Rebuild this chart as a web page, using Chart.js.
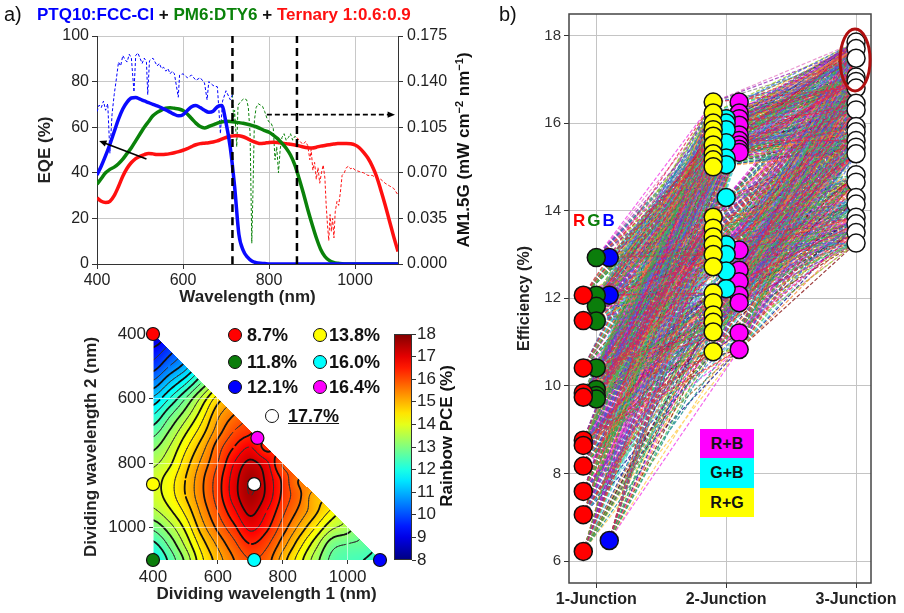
<!DOCTYPE html>
<html><head><meta charset="utf-8">
<script src="https://cdn.jsdelivr.net/npm/chart.js@4.4.0/dist/chart.umd.min.js"></script>
<style>
html,body{margin:0;padding:0;background:#fff;}
body{width:904px;height:613px;overflow:hidden;position:relative;font-family:"Liberation Sans",Arial,sans-serif;color:#111;}
canvas{position:absolute;}
.t{position:absolute;white-space:nowrap;line-height:1;}
.b{font-weight:bold;}
.rot{transform:translate(-50%,-50%) rotate(-90deg);}
.dot{position:absolute;width:14px;height:14px;border-radius:50%;border:1.3px solid #111;box-sizing:border-box;transform:translate(-50%,-50%);}
.box{position:absolute;left:700px;width:54px;text-align:center;font-weight:bold;font-size:16px;}
sup{font-size:11px;vertical-align:6px;}
</style></head><body>
<canvas id="eqe" width="460" height="310" style="left:0;top:0"></canvas>
<canvas id="map" width="400" height="303" style="left:60px;top:310px"></canvas>
<canvas id="cbar" width="80" height="303" style="left:380px;top:310px"></canvas>
<canvas id="eff" width="404" height="613" style="left:500px;top:0"></canvas>

<div class="t" style="left:4px;top:4px;font-size:20px">a)</div>
<div class="t b" style="left:37px;top:6px;font-size:17px"><span style="color:#0000ff">PTQ10:FCC-Cl</span> + <span style="color:#0a820a">PM6:DTY6</span> + <span style="color:#ff1010">Ternary 1:0.6:0.9</span></div>
<div class="t b rot" style="left:463px;top:150px;font-size:17px">AM1.5G (mW cm<sup>&minus;2</sup> nm<sup>&minus;1</sup>)</div>

<div class="dot" style="left:235px;top:335px;background:#ff0000"></div>
<div class="dot" style="left:235px;top:362px;background:#0b7d0b"></div>
<div class="dot" style="left:235px;top:387px;background:#0000ff"></div>
<div class="dot" style="left:320px;top:335px;background:#ffff00"></div>
<div class="dot" style="left:320px;top:362px;background:#00ffff"></div>
<div class="dot" style="left:320px;top:387px;background:#ff00ff"></div>
<div class="dot" style="left:272px;top:416px;background:#ffffff"></div>
<div class="t b" style="left:247px;top:326px;font-size:18px">8.7%</div>
<div class="t b" style="left:247px;top:353px;font-size:18px">11.8%</div>
<div class="t b" style="left:247px;top:378px;font-size:18px">12.1%</div>
<div class="t b" style="left:329px;top:326px;font-size:18px">13.8%</div>
<div class="t b" style="left:329px;top:353px;font-size:18px">16.0%</div>
<div class="t b" style="left:329px;top:378px;font-size:18px">16.4%</div>
<div class="t b" style="left:288px;top:407px;font-size:18px;text-decoration:underline">17.7%</div>
<div class="t b rot" style="left:446px;top:436px;font-size:17px">Rainbow PCE (%)</div>

<div class="t" style="left:499px;top:4px;font-size:20px">b)</div>
<div class="t b" style="left:573px;top:212px;font-size:17px;letter-spacing:2px"><span style="color:#ff0000">R</span><span style="color:#0b7d0b">G</span><span style="color:#0000ff">B</span></div>
<div class="box" style="top:429px;height:29px;line-height:29px;background:#ff00ff">R+B</div>
<div class="box" style="top:458px;height:30px;line-height:30px;background:#00ffff">G+B</div>
<div class="box" style="top:488px;height:29px;line-height:29px;background:#ffff00">R+G</div>

<script>
// ---- panel a: EQE spectra (nm, %) ----
const eqeWl = [400,410,420,430,440,450,460,470,480,490,500,510,520,530,540,550,560,570,580,590,
  600,610,620,630,640,650,660,670,680,690,700,710,720,730,740,750,760,770,780,790,
  800,810,820,830,840,850,860,870,880,890,900,910,920,930,940,950,960,970,980,990,
  1000,1010,1020,1030,1040,1050,1060,1070,1080,1090,1100];
const eqeBlue = [39,43,47.5,52.5,58,63.5,68,71,72.8,73,72.3,71.5,70.8,70,69.3,68.5,67.6,66.6,65.6,65,
  65.5,67.3,69,69.5,68.6,67.4,66.6,67,69,69.5,62,51,34,13,6,3,1.3,0.6,0.3,0.2,
  0,0,0,0,0,0,0,0,0,0,0,0,0,0,0,0,0,0,0,0,0,0,0,0,0,0,0,0,0,0,0];
const eqeGreen = [35,37.5,40,41.5,42.5,44,46,48.5,51,54,57,60,62.5,65,66.5,67.5,68.3,68.5,68.3,68,
  67.3,65.8,63.8,61.8,60.3,59.7,60.3,61,61.8,62.3,62.6,62.5,62.3,62,61.7,61.3,60.8,60.2,59.4,58.5,
  57.8,56.5,55,53,50.8,47.8,43.5,37.5,31,24,17.5,11.5,6.5,3.3,1.6,0.7,0.3,0.1,0,0,
  0,0,0,0,0,0,0,0,0,0,0];
const eqeRed = [29,27.5,27,27.5,30,34,38.5,42,44.5,46.2,47.2,48,48.5,48.3,48,48,48.1,48.4,48.8,49.3,
  49.9,50.6,51.5,52.3,52.8,53,53.2,53.5,54,54.8,55.5,56,56.3,56.3,55.8,55,54,53.3,52.8,53,
  53.3,53.4,53.3,53,52.8,52.5,52.2,51.8,51.3,51,50.9,51.2,51.7,52,52.3,52.6,52.8,52.8,52.8,52.7,
  52.2,51,49,46.5,43,38.5,32.5,26,19,12,5.5];

// AM1.5G spectrum (mW cm-2 nm-1), split at the two dividing wavelengths
const amBlueWl = [400,405,410,415,420,425,430,435,440,445,450,455,460,465,470,475,480,486,490,495,
  500,505,510,515,518,522,530,535,540,545,550,555,560,565,570,575,580,589,592,600,
  610,620,630,640,650,656,660,670,680,687,692,700,710,715];
const amBlue = [0.117,0.122,0.12,0.125,0.118,0.123,0.085,0.115,0.13,0.142,0.155,0.152,0.16,0.157,0.155,0.161,0.158,0.132,0.16,0.162,
  0.158,0.154,0.158,0.155,0.13,0.156,0.158,0.155,0.152,0.154,0.15,0.151,0.148,0.15,0.146,0.148,0.146,0.128,0.145,0.146,
  0.143,0.145,0.141,0.143,0.139,0.126,0.14,0.137,0.136,0.1,0.125,0.133,0.126,0.13];
const amGreenWl = [715,718,720,725,728,735,742,748,752,756,760,763,766,770,775,780,785,790,795,800,
  805,810,814,818,822,826,830,835,840,845,850,855,860,865];
const amGreen = [0.13,0.11,0.118,0.09,0.122,0.125,0.127,0.126,0.12,0.1,0.016,0.06,0.11,0.12,0.123,0.122,0.121,0.117,0.112,0.109,
  0.108,0.104,0.08,0.09,0.07,0.088,0.097,0.1,0.095,0.097,0.1,0.095,0.098,0.097];
const amRedWl = [865,870,875,880,885,890,895,898,902,906,910,914,918,922,926,930,933,936,939,942,
  945,948,951,954,958,962,966,970,975,980,985,990,995,1000,1010,1020,1030,1040,1050,1060,
  1070,1080,1090,1100];
const amRed = [0.097,0.095,0.093,0.092,0.094,0.091,0.08,0.088,0.072,0.078,0.065,0.074,0.062,0.07,0.076,0.066,0.045,0.03,0.018,0.038,
  0.025,0.035,0.02,0.04,0.048,0.045,0.055,0.068,0.07,0.074,0.075,0.073,0.074,0.072,0.071,0.07,0.068,0.068,0.066,0.065,
  0.062,0.06,0.058,0.053];

const dividers = [715, 865];
const arrows = [[515, 46, 405, 54, false], [795, 65.5, 1093, 65.5, true]];
const eqeXTicks = [400, 600, 800, 1000];
const eqeYTicks = [0, 20, 40, 60, 80, 100];
const amTicks = [0, 0.035, 0.07, 0.105, 0.14, 0.175];

// ---- panel a bottom: rainbow PCE (%) map, rows = wavelength 2 (400..1100 step 50), cols = wavelength 1 ----
const pceGrid = [
  [8.7],
  [9.3, 9.8],
  [9.8, 10.4, 11.0],
  [10.5, 11.2, 11.9, 12.8],
  [11.3, 12.0, 12.8, 13.7, 14.6],
  [12.0, 12.7, 13.4, 14.2, 15.1, 15.6],
  [12.6, 13.2, 13.9, 14.6, 15.4, 16.0, 16.3],
  [13.1, 13.6, 14.3, 15.0, 15.8, 16.4, 16.8, 16.3],
  [13.5, 13.9, 14.6, 15.3, 16.0, 16.8, 17.3, 16.9, 16.0],
  [13.8, 14.2, 14.8, 15.5, 16.2, 17.0, 17.6, 17.1, 16.3, 15.6],
  [13.8, 14.2, 14.8, 15.5, 16.2, 17.0, 17.6, 17.1, 16.3, 15.7, 15.0],
  [13.5, 13.9, 14.5, 15.3, 16.0, 16.7, 17.3, 16.8, 16.1, 15.5, 14.9, 14.3],
  [12.9, 13.4, 14.1, 15.0, 15.7, 16.3, 16.9, 16.5, 15.8, 15.1, 14.4, 13.7, 13.4],
  [12.3, 12.9, 13.7, 14.6, 15.3, 15.9, 16.4, 16.1, 15.4, 14.6, 13.8, 13.0, 12.8, 12.7],
  [11.8, 12.5, 13.3, 14.3, 15.0, 15.6, 16.0, 15.8, 15.0, 14.2, 13.4, 12.7, 12.5, 12.4, 12.2]
];
const mapPtX = [400, 400, 1100, 400, 712, 722, 712];
const mapPtY = [400, 1100, 1100, 865, 1100, 722, 865];
const mapPtColor = ['#ff0000', '#0b7d0b', '#0000ff', '#ffff00', '#00ffff', '#ff00ff', '#ffffff'];
const mapTicks = [400, 600, 800, 1000];
const cbTicks = [8, 9, 10, 11, 12, 13, 14, 15, 16, 17, 18];

// ---- panel b: efficiencies (%) ----
const junctionLabels = ['1-Junction', '2-Junction', '3-Junction'];
const redOne = [12.07, 11.49, 10.41, 9.84, 9.74, 8.76, 8.64, 8.17, 7.59, 7.06, 6.22];
const greenOne = [12.93, 12.07, 11.82, 11.48, 10.41, 9.92, 9.78, 9.7];
const blueOne = [12.93, 12.07, 6.47];
const yellowTwo = [16.48, 16.23, 16.0, 15.85, 15.7, 15.5, 15.3, 15.16, 15.0, 13.85, 13.6, 13.4, 13.22, 13.0, 12.72, 12.12, 11.9, 11.62, 11.45, 11.23, 10.78];
const cyanTwo = [16.1, 16.0, 15.85, 15.55, 15.2, 15.05, 14.3, 13.22, 13.0, 12.62, 12.22];
const magentaTwo = [16.48, 16.23, 16.1, 15.95, 15.73, 15.6, 15.5, 15.4, 15.33, 13.1, 12.64, 12.38, 12.07, 11.9, 11.21, 10.83];
const whiteThree = [17.85, 17.7, 17.48, 17.05, 16.95, 16.8, 16.45, 16.3, 15.92, 15.8, 15.6, 15.45, 15.3, 14.82, 14.65, 14.3, 14.15, 13.85, 13.7, 13.5, 13.26];
const bestThree = [3, 17.44];
const effTicks = [6, 8, 10, 12, 14, 16, 18];

Chart.defaults.font.family = "'Liberation Sans', Arial, sans-serif";
Chart.defaults.color = '#222';

const fixW = w => s => { s.width = w; };
const fixH = h => s => { s.height = h; };
const setTicks = arr => s => { s.ticks = arr.map(v => ({value: v})); };
const plain = v => String(v);
const pts = (xs, ys) => xs.map((x, i) => ({x: x, y: ys[i]}));
const base = {responsive: false, animation: false, events: [],
  plugins: {legend: {display: false}, tooltip: {enabled: false}}};

// ---------- EQE chart ----------
const curve = (xs, ys, color, w, extra) => Object.assign({data: pts(xs, ys), showLine: true,
  borderColor: color, borderWidth: w, pointRadius: 0, cubicInterpolationMode: 'monotone'}, extra || {});

const arrowPlugin = {
  id: 'arrows',
  afterDatasetsDraw(chart) {
    const {ctx, scales: {x, y}} = chart;
    ctx.save();
    ctx.strokeStyle = '#000'; ctx.fillStyle = '#000'; ctx.lineWidth = 1.6;
    arrows.forEach(a => {
      const x1 = x.getPixelForValue(a[0]), y1 = y.getPixelForValue(a[1]);
      const x2 = x.getPixelForValue(a[2]), y2 = y.getPixelForValue(a[3]);
      const ang = Math.atan2(y2 - y1, x2 - x1), L = 8;
      ctx.setLineDash(a[4] ? [5, 3] : []);
      ctx.beginPath(); ctx.moveTo(x1, y1);
      ctx.lineTo(x2 - L * 0.8 * Math.cos(ang), y2 - L * 0.8 * Math.sin(ang)); ctx.stroke();
      ctx.setLineDash([]);
      ctx.beginPath(); ctx.moveTo(x2, y2);
      ctx.lineTo(x2 - L * Math.cos(ang - 0.4), y2 - L * Math.sin(ang - 0.4));
      ctx.lineTo(x2 - L * Math.cos(ang + 0.4), y2 - L * Math.sin(ang + 0.4));
      ctx.closePath(); ctx.fill();
    });
    ctx.restore();
  }
};

new Chart(document.getElementById('eqe'), {
  type: 'scatter',
  data: {datasets: [
    curve([dividers[0], dividers[0]], [0, 100], '#000', 2.5, {borderDash: [8, 5], order: 0}),
    curve([dividers[1], dividers[1]], [0, 100], '#000', 2.5, {borderDash: [8, 5], order: 0}),
    curve(eqeWl, eqeBlue, '#0a0aff', 3.5, {order: 1}),
    curve(eqeWl, eqeGreen, '#0a820a', 3.5, {order: 1}),
    curve(eqeWl, eqeRed, '#ff1010', 3.5, {order: 1}),
    curve(amBlueWl, amBlue, '#0000ff', 1, {yAxisID: 'y1', borderDash: [3, 2], cubicInterpolationMode: 'default', order: 3}),
    curve(amGreenWl, amGreen, '#0a820a', 1, {yAxisID: 'y1', borderDash: [3, 2], cubicInterpolationMode: 'default', order: 3}),
    curve(amRedWl, amRed, '#ff1010', 1, {yAxisID: 'y1', borderDash: [3, 2], cubicInterpolationMode: 'default', order: 3})
  ]},
  options: Object.assign({}, base, {
    layout: {padding: {top: 36, left: 0, right: 0, bottom: 0}},
    scales: {
      x: {type: 'linear', min: 400, max: 1100, afterBuildTicks: setTicks(eqeXTicks), afterFit: fixH(46),
        grid: {color: '#c8c8c8', tickLength: 5, tickColor: '#333'}, border: {color: '#333'},
        ticks: {font: {size: 16}, padding: 2, maxRotation: 0, autoSkip: false, callback: plain},
        title: {display: true, text: 'Wavelength (nm)', font: {size: 17, weight: 'bold'}, padding: {top: 0, bottom: 2}}},
      y: {min: 0, max: 100, afterBuildTicks: setTicks(eqeYTicks), afterFit: fixW(97),
        grid: {color: '#c8c8c8', tickLength: 5, tickColor: '#333'}, border: {color: '#333'},
        ticks: {font: {size: 16}, padding: 3, autoSkip: false, callback: plain},
        title: {display: true, text: 'EQE (%)', font: {size: 17, weight: 'bold'}, padding: {top: 35, bottom: 0}}},
      y1: {position: 'right', min: 0, max: 0.175, afterBuildTicks: setTicks(amTicks), afterFit: fixW(62),
        grid: {drawOnChartArea: false, tickLength: 5, tickColor: '#333'}, border: {color: '#333'},
        ticks: {font: {size: 16}, padding: 4, autoSkip: false, callback: v => v.toFixed(3)}}
    }
  }),
  plugins: [arrowPlugin]
});

// ---------- rainbow PCE map ----------
function jet(t) {
  t = Math.max(0, Math.min(1, t));
  const c = v => Math.round(255 * Math.max(0, Math.min(1, v)));
  return [c(1.5 - Math.abs(4 * t - 3)), c(1.5 - Math.abs(4 * t - 2)), c(1.5 - Math.abs(4 * t - 1))];
}
function gv(i, j) {
  i = Math.max(0, Math.min(14, i)); j = Math.max(0, Math.min(14, j));
  return i <= j ? pceGrid[j][i] : pceGrid[i][j];
}
function cr(p0, p1, p2, p3, t) {
  return p1 + 0.5 * t * (p2 - p0 + t * (2 * p0 - 5 * p1 + 4 * p2 - p3 + t * (3 * (p1 - p2) + p3 - p0)));
}
function field(x, y) {
  const fx = (x - 400) / 50, fy = (y - 400) / 50;
  const i = Math.max(0, Math.min(13, Math.floor(fx))), j = Math.max(0, Math.min(13, Math.floor(fy)));
  const tx = fx - i, ty = fy - j, r = [];
  for (let m = -1; m <= 2; m++) r.push(cr(gv(i - 1, j + m), gv(i, j + m), gv(i + 1, j + m), gv(i + 2, j + m), tx));
  return cr(r[0], r[1], r[2], r[3], ty);
}
function marching(F, xs, ys, lev) {
  const segs = [];
  for (let j = 0; j < ys.length - 1; j++) for (let i = 0; i < xs.length - 1; i++) {
    const c = [[xs[i], ys[j], F[j][i]], [xs[i + 1], ys[j], F[j][i + 1]], [xs[i + 1], ys[j + 1], F[j + 1][i + 1]], [xs[i], ys[j + 1], F[j + 1][i]]];
    const p = [];
    for (let e = 0; e < 4; e++) {
      const A = c[e], B = c[(e + 1) % 4];
      if ((A[2] - lev) * (B[2] - lev) < 0) {
        const t = (lev - A[2]) / (B[2] - A[2]);
        p.push([A[0] + t * (B[0] - A[0]), A[1] + t * (B[1] - A[1])]);
      }
    }
    if (p.length >= 2) segs.push([p[0], p[1]]);
    if (p.length === 4) segs.push([p[2], p[3]]);
  }
  return segs;
}

const mapPlugin = {
  id: 'pcemap',
  beforeDraw(chart) {
    const {ctx, chartArea: a, scales: {x, y}} = chart;
    const w = Math.round(a.right - a.left), h = Math.round(a.bottom - a.top);
    const off = document.createElement('canvas'); off.width = w; off.height = h;
    const octx = off.getContext('2d'), img = octx.createImageData(w, h);
    for (let py = 0; py < h; py++) {
      const yv = y.getValueForPixel(a.top + py + 0.5);
      for (let px = 0; px < w; px++) {
        const xv = x.getValueForPixel(a.left + px + 0.5);
        if (yv < xv - 1) continue;
        const c = jet((field(xv, yv) - 8) / 10), k = (py * w + px) * 4;
        img.data[k] = c[0]; img.data[k + 1] = c[1]; img.data[k + 2] = c[2]; img.data[k + 3] = 255;
      }
    }
    octx.putImageData(img, 0, 0);
    ctx.drawImage(off, a.left, a.top);
    // contour lines
    const xs = [], ys = [];
    for (let v = 400; v <= 1100; v += 5) { xs.push(v); ys.push(v); }
    const F = ys.map(yy => xs.map(xx => field(xx, yy)));
    ctx.save();
    ctx.beginPath();
    ctx.moveTo(x.getPixelForValue(400), y.getPixelForValue(400));
    ctx.lineTo(x.getPixelForValue(400), y.getPixelForValue(1100));
    ctx.lineTo(x.getPixelForValue(1100), y.getPixelForValue(1100));
    ctx.closePath(); ctx.clip();
    ctx.lineCap = 'round'; ctx.lineJoin = 'round';
    for (let k = 0; k < 24; k++) {
      const lev = 8.4 + 0.4 * k;
      const segs = marching(F, xs, ys, lev);
      ctx.strokeStyle = k % 2 === 0 ? '#111' : '#333';
      ctx.lineWidth = k % 2 === 0 ? 1.8 : 0.9;
      ctx.beginPath();
      segs.forEach(s => {
        ctx.moveTo(x.getPixelForValue(s[0][0]), y.getPixelForValue(s[0][1]));
        ctx.lineTo(x.getPixelForValue(s[1][0]), y.getPixelForValue(s[1][1]));
      });
      ctx.stroke();
    }
    ctx.restore();
  }
};

new Chart(document.getElementById('map'), {
  type: 'scatter',
  data: {datasets: [{data: pts(mapPtX, mapPtY), backgroundColor: mapPtColor, borderColor: '#111',
    borderWidth: 1.2, pointRadius: 6.5, clip: false}]},
  options: Object.assign({}, base, {
    layout: {padding: {top: 24, left: 0, right: 80, bottom: 0}},
    scales: {
      x: {type: 'linear', min: 400, max: 1100, afterBuildTicks: setTicks(mapTicks), afterFit: fixH(53),
        grid: {color: 'rgba(255,255,255,0.55)', tickLength: 4, tickColor: '#333'}, border: {display: false},
        ticks: {font: {size: 17}, padding: 3, maxRotation: 0, autoSkip: false, callback: plain},
        title: {display: true, text: 'Dividing wavelength 1 (nm)', font: {size: 17, weight: 'bold'}, padding: {top: 0, bottom: 8}}},
      y: {reverse: true, min: 400, max: 1100, afterBuildTicks: setTicks(mapTicks), afterFit: fixW(93),
        grid: {color: 'rgba(255,255,255,0.55)', tickLength: 4, tickColor: '#333'}, border: {display: false},
        ticks: {font: {size: 17}, padding: 3, autoSkip: false, callback: plain},
        title: {display: true, text: 'Dividing wavelength 2 (nm)', font: {size: 17, weight: 'bold'}, padding: {top: 21, bottom: 0}}}
    }
  }),
  plugins: [mapPlugin]
});

// colour bar
new Chart(document.getElementById('cbar'), {
  type: 'scatter',
  data: {datasets: []},
  options: Object.assign({}, base, {
    layout: {padding: {top: 24, left: 14, right: 0, bottom: 53}},
    scales: {
      x: {display: false, min: 0, max: 1},
      y: {position: 'right', min: 8, max: 18, afterBuildTicks: setTicks(cbTicks), afterFit: fixW(48),
        grid: {drawOnChartArea: false, tickLength: 4, tickColor: '#333'}, border: {display: false},
        ticks: {font: {size: 17}, padding: 1, autoSkip: false, callback: plain}}
    }
  }),
  plugins: [{
    id: 'cbfill',
    beforeDatasetsDraw(chart) {
      const {ctx, chartArea: a} = chart;
      const g = ctx.createLinearGradient(0, a.bottom, 0, a.top);
      for (let s = 0; s <= 20; s++) { const c = jet(s / 20); g.addColorStop(s / 20, 'rgb(' + c.join(',') + ')'); }
      ctx.save();
      ctx.fillStyle = g; ctx.fillRect(a.left, a.top, a.right - a.left, a.bottom - a.top);
      ctx.strokeStyle = '#333'; ctx.lineWidth = 1;
      ctx.strokeRect(a.left + 0.5, a.top + 0.5, a.right - a.left - 1, a.bottom - a.top - 1);
      ctx.restore();
    }
  }]
});

// ---------- panel b: efficiency vs junctions ----------
const lineColors = ['rgba(230,25,75,0.75)', 'rgba(60,180,75,0.75)', 'rgba(67,99,216,0.75)', 'rgba(245,130,49,0.75)',
  'rgba(145,30,180,0.75)', 'rgba(70,200,200,0.75)', 'rgba(240,50,230,0.75)', 'rgba(150,200,20,0.75)',
  'rgba(0,128,128,0.75)', 'rgba(154,99,36,0.75)', 'rgba(128,0,0,0.75)', 'rgba(128,128,128,0.75)',
  'rgba(0,0,140,0.75)', 'rgba(227,119,194,0.75)', 'rgba(23,190,207,0.75)', 'rgba(255,200,60,0.75)'];
const linkSets = lineColors.map(c => ({data: [], showLine: true, borderColor: c, borderWidth: 1.2,
  borderDash: [4, 2], pointRadius: 0, spanGaps: false, order: 2}));
let nLink = 0;
function link(x1, v1, x2, vals2) {
  vals2.forEach(v2 => {
    if (v2 < v1) return;
    const d = linkSets[(nLink * 7) % linkSets.length].data;
    d.push({x: x1, y: v1}, {x: x2, y: v2}, {x: x2, y: null});
    nLink++;
  });
}
redOne.forEach(v => { link(0.9, v, 1.9, yellowTwo); link(0.9, v, 2.1, magentaTwo); });
greenOne.forEach(v => { link(1.0, v, 1.9, yellowTwo); link(1.0, v, 2.0, cyanTwo); });
blueOne.forEach(v => { link(1.1, v, 2.0, cyanTwo); link(1.1, v, 2.1, magentaTwo); });
yellowTwo.forEach(v => link(1.9, v, 3, whiteThree));
cyanTwo.forEach(v => link(2.0, v, 3, whiteThree));
magentaTwo.forEach(v => link(2.1, v, 3, whiteThree));

const dots = (xpos, vals, color) => ({data: vals.map(v => ({x: xpos, y: v})), backgroundColor: color,
  borderColor: '#111', borderWidth: 1.5, pointRadius: 9, order: 0});

const framePlugin = {
  id: 'frame',
  afterDatasetsDraw(chart) {
    const {ctx, chartArea: a, scales: {x, y}} = chart;
    ctx.save();
    ctx.strokeStyle = '#444'; ctx.lineWidth = 1.5;
    ctx.strokeRect(a.left, a.top, a.right - a.left, a.bottom - a.top);
    ctx.strokeStyle = '#b01010'; ctx.lineWidth = 3;
    ctx.beginPath();
    ctx.ellipse(x.getPixelForValue(bestThree[0]) - 1, y.getPixelForValue(bestThree[1]), 15, 31, 0, 0, Math.PI * 2);
    ctx.stroke();
    ctx.restore();
  }
};

new Chart(document.getElementById('eff'), {
  type: 'scatter',
  data: {datasets: linkSets.concat([
    dots(0.9, redOne, '#ff0000'), dots(1.0, greenOne, '#0b7d0b'), dots(1.1, blueOne, '#0000ff'),
    dots(1.9, yellowTwo, '#ffff00'), dots(2.0, cyanTwo, '#00ffff'), dots(2.1, magentaTwo, '#ff00ff'),
    dots(3.0, whiteThree, '#ffffff')
  ])},
  options: Object.assign({}, base, {
    layout: {padding: {top: 14, left: 0, right: 33, bottom: 0}},
    scales: {
      x: {type: 'linear', min: 0.79, max: 3.115, afterBuildTicks: setTicks([1, 2, 3]), afterFit: fixH(30),
        grid: {color: '#c4c4c4', tickLength: 5, tickColor: '#333'}, border: {display: false},
        ticks: {font: {size: 16, weight: 'bold'}, padding: 2, maxRotation: 0, autoSkip: false, callback: v => junctionLabels[v - 1]}},
      y: {min: 5.5, max: 18.49, afterBuildTicks: setTicks(effTicks), afterFit: fixW(69),
        grid: {color: '#c4c4c4', tickLength: 5, tickColor: '#333'}, border: {display: false},
        ticks: {font: {size: 15}, padding: 3, color: '#333', autoSkip: false},
        title: {display: true, text: 'Efficiency (%)', font: {size: 16, weight: 'bold'}, padding: {top: 15, bottom: 0}}}
    }
  }),
  plugins: [framePlugin]
});
</script>
</body></html>
